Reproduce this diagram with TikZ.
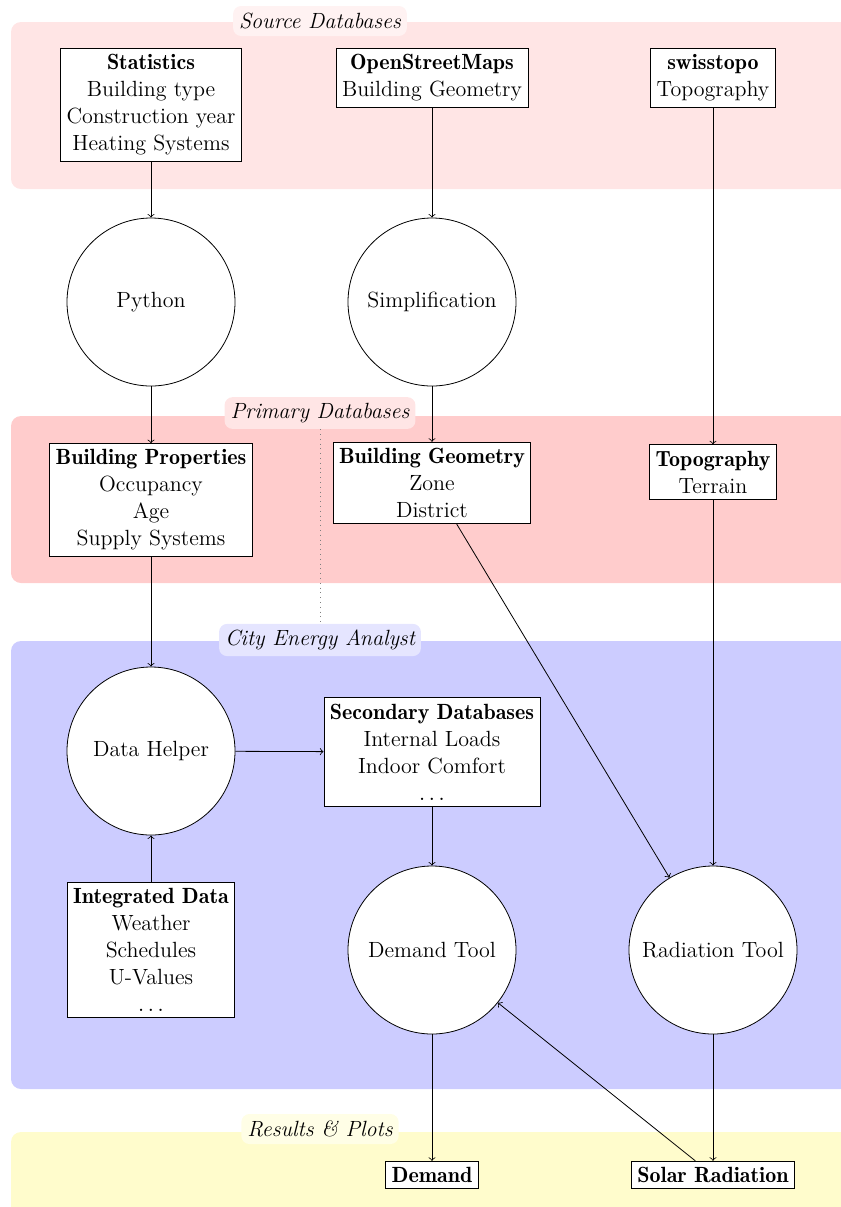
\documentclass[tikz,border=0pt]{standalone}
\usetikzlibrary{arrows}
\newcommand\hd[1]{{\fontseries{b}\selectfont #1}}
\begin{document}
\begin{tikzpicture}[x=0.5pt,y=-0.5pt,
  every node/.style={font=\fontsize{11}{13.5}\selectfont},
  box/.style={draw,fill=white,align=center,inner sep=3pt},
  circ/.style={draw,fill=white,circle,minimum size=84pt,inner sep=0pt},
  band/.style={rounded corners=5pt},
  blabel/.style={rounded corners=4pt,font=\fontsize{11}{13.5}\selectfont\itshape,inner sep=3pt,minimum height=15pt},
  conn/.style={->,>=to}]
\useasboundingbox (0,0) rectangle (841,1207);
\clip (0,0) rectangle (841,1207);
% bands
\fill[band,red!10] (11,22) rectangle (860,189);
\fill[band,red!20] (11,416) rectangle (860,583);
\fill[band,blue!20] (11,641) rectangle (860,1089);
\fill[band,yellow!20] (11,1132) rectangle (860,1230);
% band labels
\node[blabel,fill=red!5] (lsrc) at (320,21) {Source Databases};
\node[blabel,fill=red!10] (lprim) at (320,413) {Primary Databases};
\node[blabel,fill=blue!10] (lcea) at (320,640) {City Energy Analyst};
\node[blabel,fill=yellow!10] (lres) at (320,1129) {Results \& Plots};
\draw[dotted,gray] (lprim.south) -- (lcea.north);
% source nodes
\node[box] (stat) at (151,105) {\hd{Statistics}\\Building type\\Construction year\\Heating Systems};
\node[box] (osm) at (432,78) {\hd{OpenStreetMaps}\\Building Geometry};
\node[box] (swt) at (713,78) {\hd{swisstopo}\\Topography};
% processing
\node[circ] (py) at (151,302) {Python};
\node[circ] (simp) at (432,302) {Simplification};
% primary
\node[box] (bp) at (151,500) {\hd{Building Properties}\\Occupancy\\Age\\Supply Systems};
\node[box] (bg) at (432,483) {\hd{Building Geometry}\\Zone\\District};
\node[box] (topo) at (713,472) {\hd{Topography}\\Terrain};
% CEA
\node[circ] (dh) at (151,751) {Data Helper};
\node[box] (sec) at (432,752) {\hd{Secondary Databases}\\Internal Loads\\Indoor Comfort\\$\ldots$};
\node[box] (integ) at (151,950) {\hd{Integrated Data}\\Weather\\Schedules\\U-Values\\$\ldots$};
\node[circ] (dt) at (432,950) {Demand Tool};
\node[circ] (rt) at (713,950) {Radiation Tool};
% results
\node[box] (dem) at (432,1175) {\hd{Demand}};
\node[box] (sol) at (713,1175) {\hd{Solar Radiation}};
% connectors
\draw[conn] (stat) -- (py);
\draw[conn] (osm) -- (simp);
\draw[conn] (swt) -- (topo);
\draw[conn] (py) -- (bp);
\draw[conn] (simp) -- (bg);
\draw[conn] (bp) -- (dh);
\draw[conn] (integ) -- (dh);
\draw[conn] (dh) -- (sec);
\draw[conn] (sec) -- (dt);
\draw[conn] (bg) -- (rt);
\draw[conn] (topo) -- (rt);
\draw[conn] (dt) -- (dem);
\draw[conn] (rt) -- (sol);
\draw[conn] (sol) -- (dt);
\end{tikzpicture}
\end{document}
